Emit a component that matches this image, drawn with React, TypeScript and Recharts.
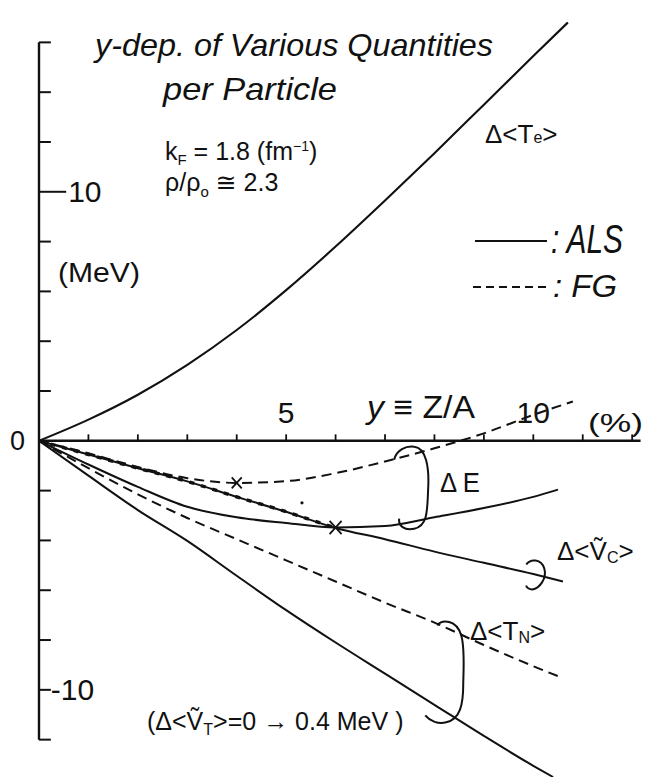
import React from 'react';
import { ComposedChart, Line, XAxis, YAxis, ReferenceLine, ReferenceDot } from 'recharts';

const WIDTH = 647;
const HEIGHT = 778;
const INK = '#111';
const HAND = "'Liberation Sans', 'DejaVu Sans', sans-serif";

// proton fraction y = Z/A (%) and energy change per particle (MeV)
const teX = [0, 1, 2, 3, 4, 5, 6, 7, 8, 9, 10, 10.7];
const teVal = [0, 0.85, 1.85, 3.05, 4.45, 6.05, 7.8, 9.65, 11.55, 13.5, 15.45, 16.8];

const dEfgX = [0, 1, 2, 3, 4, 5, 6, 7, 8, 9, 10, 10.8];
const dEfgVal = [0, -0.5, -1.05, -1.5, -1.69, -1.62, -1.3, -0.83, -0.3, 0.3, 1.04, 1.58];

const dEalsX = [0, 1, 2, 3, 4, 5, 6, 7, 8, 9, 10, 10.5];
const dEalsVal = [0, -0.95, -1.85, -2.65, -3.07, -3.3, -3.48, -3.42, -3.07, -2.7, -2.25, -1.96];

const vcX = [0, 1, 2, 3, 4, 5, 6, 7, 8, 9, 10, 10.6];
const vcVal = [0, -0.55, -1.1, -1.63, -2.25, -2.85, -3.5, -3.95, -4.45, -4.9, -5.35, -5.65];

const tnFgX = [0, 1, 2, 3, 4, 5, 6, 7, 8, 9, 10, 10.5];
const tnFgVal = [0, -1.1, -2.15, -3.1, -3.95, -4.8, -5.65, -6.5, -7.3, -8.2, -9.05, -9.45];

const tnAlsX = [0, 1, 2, 3, 4, 5, 6, 7, 8, 9, 10, 10.4];
const tnAlsVal = [0, -1.4, -2.78, -4.02, -5.42, -6.8, -8.1, -9.35, -10.6, -11.85, -13.05, -13.5];

// axes
const xTicks = [1, 2, 3, 4, 5, 6, 7, 8, 9, 10, 11, 12];
const xTickLabels = [5, 10];
const xAxisEnd = 12.17;
const yTicks = [-12, -10, -8, -6, -4, -2, 2, 4, 6, 8, 10, 12, 14, 16];
const yTickLabels = [10, -10];
const yAxisRange = [-12, 16];

const pts = (xs: number[], ys: number[]) => xs.map((x, i) => ({ x, y: ys[i] }));

const interp = (xs: number[], ys: number[], x: number) => {
  for (let i = 0; i < xs.length - 1; i++) {
    if (x >= xs[i] && x <= xs[i + 1]) {
      const t = (x - xs[i]) / (xs[i + 1] - xs[i]);
      return ys[i] + t * (ys[i + 1] - ys[i]);
    }
  }
  return ys[ys.length - 1];
};

const crossShape = (size: number) => (props: any) => {
  const { cx, cy } = props;
  return (
    <g stroke={INK} strokeWidth={1.8}>
      <line x1={cx - size} y1={cy - size * 1.1} x2={cx + size} y2={cy + size * 1.1} />
      <line x1={cx - size} y1={cy + size * 1.1} x2={cx + size} y2={cy - size * 1.1} />
    </g>
  );
};

const loopShape = (d: string) => (props: any) => (
  <path transform={`translate(${props.cx},${props.cy})`} d={d} fill="none" stroke={INK} strokeWidth={2} />
);

const loopE = 'M -18 -28 C -16 -38, -6 -42, 2 -41 C 14 -40, 17 -20, 16 0 C 15 22, 16 38, 2 41 C -8 43, -14 38, -13 31';
const loopVc = 'M -9 -10 C -5 -16, 6 -16, 9 -6 C 12 4, 4 14, -3 15 C -6 15, -9 13, -9 11';
const loopTn = 'M -15 -48 C -10 -54, 4 -54, 9 -38 C 13 -24, 11 1, 11 11 C 11 31, 8 46, -6 49 C -14 51, -22 48, -27 42';

const labelStyle = { fill: INK, fontSize: 30, fontFamily: HAND };

export default function App() {
  const loopEx = 7.55;
  const loopVcX = 10.04;
  const loopTnX = 8.36;
  return (
    <div style={{ position: 'absolute', left: 0, top: 0, width: WIDTH, height: HEIGHT, background: '#fff', overflow: 'hidden' }}>
      <ComposedChart width={WIDTH} height={HEIGHT} margin={{ top: 10, right: 0, bottom: 1, left: 39 }}>
        <XAxis type="number" dataKey="x" domain={[0, 12.3]} hide allowDataOverflow />
        <YAxis type="number" domain={[-13.5, 17.3]} hide allowDataOverflow />

        {/* axis lines */}
        <ReferenceLine
          segment={[{ x: 0, y: yAxisRange[0] }, { x: 0, y: yAxisRange[1] }]}
          stroke={INK}
          strokeWidth={2.4}
        />
        <ReferenceLine
          segment={[{ x: 0, y: 0 }, { x: xAxisEnd, y: 0 }]}
          stroke={INK}
          strokeWidth={2.4}
          label={{ value: '0', position: 'left', offset: 14, ...labelStyle, fontSize: 27 }}
        />
        {yTicks.map((v) => {
          const labelled = yTickLabels.includes(v);
          const len = v === 10 ? 0.55 : 0.24;
          return (
            <ReferenceLine
              key={`yt${v}`}
              segment={[{ x: 0, y: v }, { x: len, y: v }]}
              stroke={INK}
              strokeWidth={2}
              label={labelled ? { value: String(v), position: 'right', offset: v > 0 ? 2 : 0, ...labelStyle } : undefined}
            />
          );
        })}
        {xTicks.map((v) => (
          <ReferenceLine
            key={`xt${v}`}
            segment={[{ x: v, y: 0 }, { x: v, y: 0.26 }]}
            stroke={INK}
            strokeWidth={1.8}
            label={xTickLabels.includes(v) ? { value: String(v), position: 'top', offset: 11, ...labelStyle } : undefined}
          />
        ))}

        {/* ALS: solid, FG: dashed */}
        <Line data={pts(teX, teVal)} dataKey="y" type="monotone" stroke={INK} strokeWidth={2.1} dot={false} isAnimationActive={false} />
        <Line data={pts(dEfgX, dEfgVal)} dataKey="y" type="monotone" stroke={INK} strokeWidth={2} strokeDasharray="10 6" dot={false} isAnimationActive={false} />
        <Line data={pts(dEalsX, dEalsVal)} dataKey="y" type="monotone" stroke={INK} strokeWidth={2} dot={false} isAnimationActive={false} />
        <Line data={pts(vcX, vcVal)} dataKey="y" type="monotone" stroke={INK} strokeWidth={2} dot={false} isAnimationActive={false} />
        <Line data={pts(vcX.slice(0, 7), vcVal.slice(0, 7))} dataKey="y" type="monotone" stroke={INK} strokeWidth={3.4} strokeDasharray="5 7" dot={false} isAnimationActive={false} />
        <Line data={pts(tnFgX, tnFgVal)} dataKey="y" type="monotone" stroke={INK} strokeWidth={2} strokeDasharray="10 6" dot={false} isAnimationActive={false} />
        <Line data={pts(tnAlsX, tnAlsVal)} dataKey="y" type="monotone" stroke={INK} strokeWidth={2} dot={false} isAnimationActive={false} />

        {/* crossing marks */}
        <ReferenceDot x={dEfgX[4]} y={dEfgVal[4]} r={5} shape={crossShape(5)} />
        <ReferenceDot x={dEalsX[6]} y={dEalsVal[6]} r={6} shape={crossShape(6)} />
        <ReferenceDot x={5.32} y={-2.49} r={1.6} fill={INK} stroke="none" />

        {/* grouping loops */}
        <ReferenceDot
          x={loopEx}
          y={(interp(dEfgX, dEfgVal, loopEx) + interp(dEalsX, dEalsVal, loopEx)) / 2}
          r={20}
          shape={loopShape(loopE)}
        />
        <ReferenceDot x={loopVcX} y={interp(vcX, vcVal, loopVcX)} r={10} shape={loopShape(loopVc)} />
        <ReferenceDot
          x={loopTnX}
          y={(interp(tnFgX, tnFgVal, loopTnX) + interp(tnAlsX, tnAlsVal, loopTnX)) / 2}
          r={20}
          shape={loopShape(loopTn)}
        />
      </ComposedChart>

      <svg
        width={WIDTH}
        height={HEIGHT}
        style={{ position: 'absolute', left: 0, top: 0, pointerEvents: 'none' }}
        fontFamily={HAND}
        fill={INK}
      >
        <text x={95} y={56} fontSize={32} fontStyle="italic" textLength={398} lengthAdjust="spacingAndGlyphs">
          y-dep. of Various Quantities
        </text>
        <text x={163} y={100} fontSize={32} fontStyle="italic" textLength={174} lengthAdjust="spacingAndGlyphs">
          per Particle
        </text>
        <text x={165} y={160} fontSize={25}>
          k<tspan fontSize={15} dy={5}>F</tspan>
          <tspan dy={-5}> = 1.8 (fm</tspan>
          <tspan fontSize={14} dy={-9}>−1</tspan>
          <tspan dy={9}>)</tspan>
        </text>
        <text x={165} y={191} fontSize={25}>
          ρ/ρ<tspan fontSize={15} dy={6}>o</tspan>
          <tspan dy={-6}> ≅ 2.3</tspan>
        </text>
        <text x={58} y={282} fontSize={28} textLength={82} lengthAdjust="spacingAndGlyphs">
          (MeV)
        </text>
        <text x={485} y={143} fontSize={26}>
          Δ&lt;T<tspan fontSize={16}>e</tspan>&gt;
        </text>

        {/* legend */}
        <line x1={475} y1={241} x2={547} y2={241} stroke={INK} strokeWidth={2} />
        <text x={551} y={253} fontSize={40} fontStyle="italic" textLength={72} lengthAdjust="spacingAndGlyphs">
          : ALS
        </text>
        <line x1={473} y1={287} x2={548} y2={287} stroke={INK} strokeWidth={2} strokeDasharray="8 5" />
        <text x={553} y={297} fontSize={32} fontStyle="italic" textLength={64} lengthAdjust="spacingAndGlyphs">
          : FG
        </text>

        <text x={367} y={418} fontSize={32} textLength={108} lengthAdjust="spacingAndGlyphs">
          <tspan fontStyle="italic">y</tspan> ≡ Z/A
        </text>
        <text x={588} y={432} fontSize={26} textLength={55} lengthAdjust="spacingAndGlyphs">
          (%)
        </text>
        <text x={440} y={492} fontSize={28} textLength={40} lengthAdjust="spacingAndGlyphs">
          Δ E
        </text>
        <text x={557} y={560} fontSize={26}>
          Δ&lt;Ṽ<tspan fontSize={16} dy={3}>C</tspan>
          <tspan dy={-3}>&gt;</tspan>
        </text>
        <text x={470} y={640} fontSize={26}>
          Δ&lt;T<tspan fontSize={16} dy={3}>N</tspan>
          <tspan dy={-3}>&gt;</tspan>
        </text>
        <text x={147} y={730} fontSize={25}>
          (Δ&lt;Ṽ<tspan fontSize={16} dy={5}>T</tspan>
          <tspan dy={-5}>&gt;=0 → 0.4 MeV )</tspan>
        </text>
      </svg>
    </div>
  );
}
